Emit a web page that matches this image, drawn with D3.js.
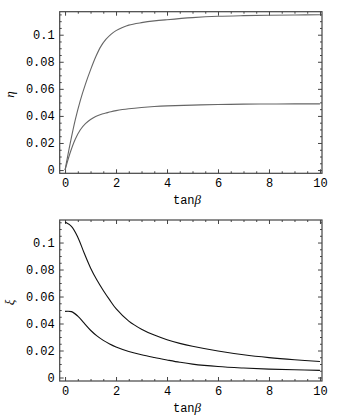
<!DOCTYPE html>
<html lang="en">
<head>
<meta charset="utf-8">
<script src="https://d3js.org/d3.v7.min.js"></script>
<style>
  body { margin: 0; background: #fff; }
  .tick text { font-family: "Liberation Mono", monospace; font-size: 12px; fill: #000; }
  .tick line { stroke: #444; }
  .lab { font-family: "Liberation Mono", monospace; font-size: 12px; }
</style>
</head>
<body>
<svg width="345" height="420"></svg>
<script>
// values
var tanb = [0, 0.2, 0.4, 0.6, 0.8, 1, 1.2, 1.4, 1.6, 1.8, 2, 2.25, 2.5, 3, 3.5, 4, 5, 6, 7, 8, 9, 10];
var eta1 = [0, 0.0195, 0.037, 0.0515, 0.0635, 0.074, 0.0835, 0.0912, 0.0965, 0.1003, 0.103, 0.1053, 0.1071, 0.1089, 0.1102, 0.1111, 0.1126, 0.1136, 0.1141, 0.1144, 0.1146, 0.1147];
var eta2 = [0, 0.0128, 0.0228, 0.0298, 0.0343, 0.0374, 0.0396, 0.0411, 0.0421, 0.0431, 0.0439, 0.0447, 0.0453, 0.0462, 0.0469, 0.0474, 0.048, 0.0484, 0.0487, 0.0488, 0.0489, 0.0489];

var tanb2 = [0, 0.25, 0.5, 0.75, 1, 1.25, 1.5, 1.75, 2, 2.5, 3, 3.5, 4, 4.5, 5, 6, 7, 8, 9, 10];
var xi1 = [0.1152, 0.112, 0.104, 0.0922, 0.0812, 0.0722, 0.0645, 0.0575, 0.051, 0.0418, 0.0358, 0.0314, 0.028, 0.0253, 0.0231, 0.0196, 0.0168, 0.0147, 0.0131, 0.0118];
var xi2 = [0.049, 0.0488, 0.0455, 0.0402, 0.035, 0.0308, 0.0275, 0.0248, 0.0226, 0.0193, 0.0168, 0.0148, 0.013, 0.0113, 0.0099, 0.0081, 0.007, 0.0062, 0.0057, 0.0053];

var xTicks = [0, 2, 4, 6, 8, 10];
var yTicks = [0, 0.02, 0.04, 0.06, 0.08, 0.1];
var yLabels = ["0", "0.02", "0.04", "0.06", "0.08", "0.1"];

var svg = d3.select("svg");

function panel(top, bottom, yMin, yMax, xs, series, color, ylab) {
  var x = d3.scaleLinear().domain([-0.21, 10.08]).range([59.7, 322]);
  var y = d3.scaleLinear().domain([yMin, yMax]).range([bottom, top]);
  var g = svg.append("g");

  var xMinor = d3.range(0, 10.01, 0.5).filter(function(v) { return v % 2 != 0; });
  var yMinor = d3.range(0, 0.1151, 0.005).filter(function(v) { return Math.abs(v / 0.02 - Math.round(v / 0.02)) > 0.01; });

  function ax(fn, pos, vals, size, labels) {
    var a = fn(fn === d3.axisBottom || fn === d3.axisTop ? x : y)
      .tickValues(vals).tickSize(size).tickPadding(5);
    if (labels) a.tickFormat(function(d, i) { return labels[i]; });
    else a.tickFormat("");
    var s = g.append("g").attr("transform", pos).call(a);
    s.select(".domain").remove();
    return s;
  }
  ax(d3.axisBottom, "translate(0," + bottom + ")", xTicks, -4, xTicks.map(String));
  ax(d3.axisBottom, "translate(0," + bottom + ")", xMinor, -2);
  ax(d3.axisTop, "translate(0," + top + ")", xTicks, -4);
  ax(d3.axisTop, "translate(0," + top + ")", xMinor, -2);
  ax(d3.axisLeft, "translate(59.7,0)", yTicks, -4, yLabels);
  ax(d3.axisLeft, "translate(59.7,0)", yMinor, -2);
  ax(d3.axisRight, "translate(322,0)", yTicks, -4);
  ax(d3.axisRight, "translate(322,0)", yMinor, -2);

  g.append("rect").attr("x", 59.7).attr("y", top).attr("width", 322 - 59.7)
    .attr("height", bottom - top).attr("fill", "none").attr("stroke", "#444").attr("stroke-width", 1.2);

  var line = d3.line().curve(d3.curveCatmullRom.alpha(0.5))
    .x(function(d, i) { return x(xs[i]); })
    .y(function(d) { return y(d); });
  series.forEach(function(s) {
    g.append("path").attr("d", line(s)).attr("fill", "none")
      .attr("stroke", color).attr("stroke-width", 1.1);
  });

  g.append("text").attr("class", "lab").attr("x", 187).attr("y", bottom + 31)
    .attr("text-anchor", "middle")
    .html('tan<tspan font-family="Liberation Serif" font-style="italic" font-size="13">β</tspan>');
  g.append("text").attr("transform", "translate(14," + ((top + bottom) / 2 + 2) + ") rotate(-90)")
    .attr("text-anchor", "middle").attr("font-family", "Liberation Serif").attr("font-style", "italic")
    .attr("font-size", 13).text(ylab);
}

panel(11.7, 173.3, -0.0024, 0.117, tanb, [eta1, eta2], "#666", "η");
panel(220, 381, -0.0026, 0.1167, tanb2, [xi1, xi2], "#111", "ξ");
</script>
</body>
</html>
